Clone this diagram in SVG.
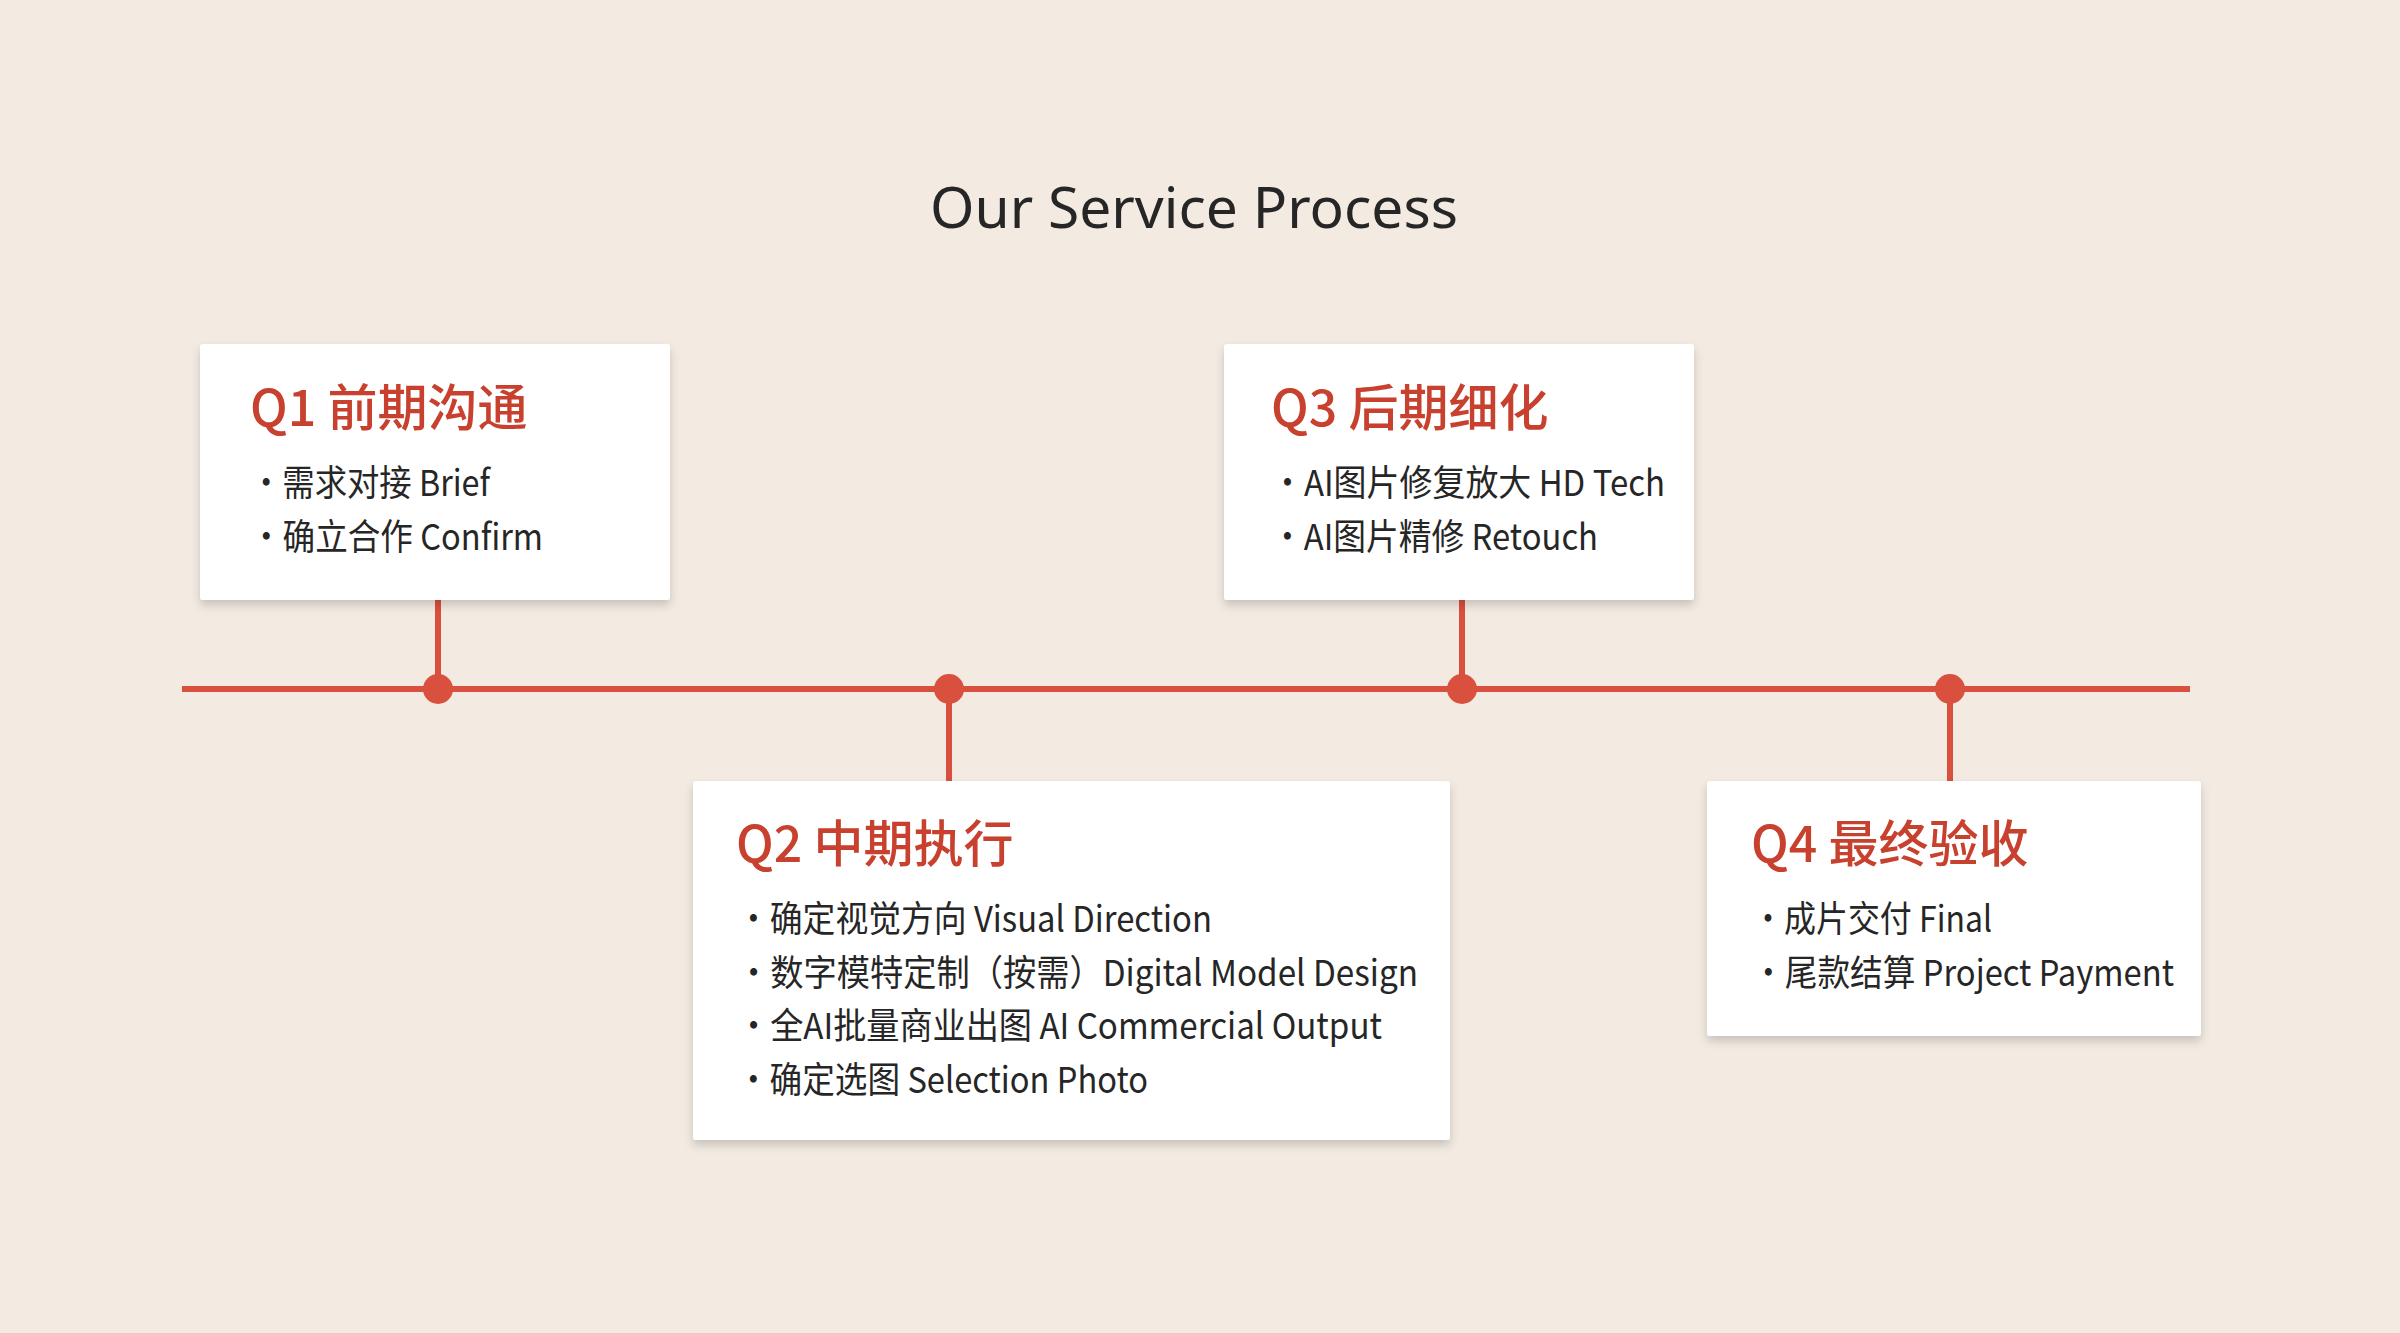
<svg xmlns="http://www.w3.org/2000/svg" width="2400" height="1333" viewBox="0 0 2400 1333">
<defs>
<filter id="sh" x="-10%" y="-10%" width="120%" height="130%"><feDropShadow dx="0" dy="5" stdDeviation="5" flood-color="#000" flood-opacity="0.18"/></filter>
<style>
.box{fill:#fff;filter:url(#sh)}
.h{font-family:"Noto Sans CJK SC","Noto Sans",sans-serif;font-size:50px;font-weight:500;fill:#c8402e}
.t{font-family:"Noto Sans CJK SC","Noto Sans",sans-serif;font-size:36px;fill:#262626}
.ln{stroke:#d9503e;stroke-width:6;fill:none}
.dot{fill:#d9503e}
</style>
</defs>
<rect width="2400" height="1333" fill="#f3ebe2"/>
<text x="1194" y="228" text-anchor="middle" font-family="'Noto Sans','Open Sans',sans-serif" font-size="57" fill="#262626" textLength="528" lengthAdjust="spacingAndGlyphs">Our Service Process</text>
<g id="connectors">
<line class="ln" x1="182" y1="689" x2="2190" y2="689"/>
<line class="ln" x1="438" y1="600" x2="438" y2="689"/>
<line class="ln" x1="949" y1="689" x2="949" y2="781"/>
<line class="ln" x1="1462" y1="600" x2="1462" y2="689"/>
<line class="ln" x1="1950" y1="689" x2="1950" y2="781"/>
<circle class="dot" cx="438" cy="689" r="15"/>
<circle class="dot" cx="949" cy="689" r="15"/>
<circle class="dot" cx="1462" cy="689" r="15"/>
<circle class="dot" cx="1950" cy="689" r="15"/>
</g>
<g id="q1">
<rect class="box" x="200" y="344" width="470" height="256" rx="3"/>
<text class="h" x="250" y="426">Q1 前期沟通</text>
<text class="t" x="250" y="496" textLength="240" lengthAdjust="spacingAndGlyphs">·需求对接 Brief</text>
<text class="t" x="250" y="550" textLength="293" lengthAdjust="spacingAndGlyphs">·确立合作 Confirm</text>
</g>
<g id="q3">
<rect class="box" x="1224" y="344" width="470" height="256" rx="3"/>
<text class="h" x="1271" y="426">Q3 后期细化</text>
<text class="t" x="1271" y="496" textLength="394" lengthAdjust="spacingAndGlyphs">·AI图片修复放大 HD Tech</text>
<text class="t" x="1271" y="550" textLength="327" lengthAdjust="spacingAndGlyphs">·AI图片精修 Retouch</text>
</g>
<g id="q2">
<rect class="box" x="693" y="781" width="757" height="359" rx="3"/>
<text class="h" x="736" y="862">Q2 中期执行</text>
<text class="t" x="737" y="932" textLength="475" lengthAdjust="spacingAndGlyphs">·确定视觉方向 Visual Direction</text>
<text class="t" x="737" y="986" textLength="681" lengthAdjust="spacingAndGlyphs">·数字模特定制（按需）Digital Model Design</text>
<text class="t" x="737" y="1039" textLength="645" lengthAdjust="spacingAndGlyphs">·全AI批量商业出图 AI Commercial Output</text>
<text class="t" x="737" y="1093" textLength="411" lengthAdjust="spacingAndGlyphs">·确定选图 Selection Photo</text>
</g>
<g id="q4">
<rect class="box" x="1707" y="781" width="494" height="255" rx="3"/>
<text class="h" x="1751" y="862">Q4 最终验收</text>
<text class="t" x="1752" y="932" textLength="240" lengthAdjust="spacingAndGlyphs">·成片交付 Final</text>
<text class="t" x="1752" y="986" textLength="422" lengthAdjust="spacingAndGlyphs">·尾款结算 Project Payment</text>
</g>
</svg>
